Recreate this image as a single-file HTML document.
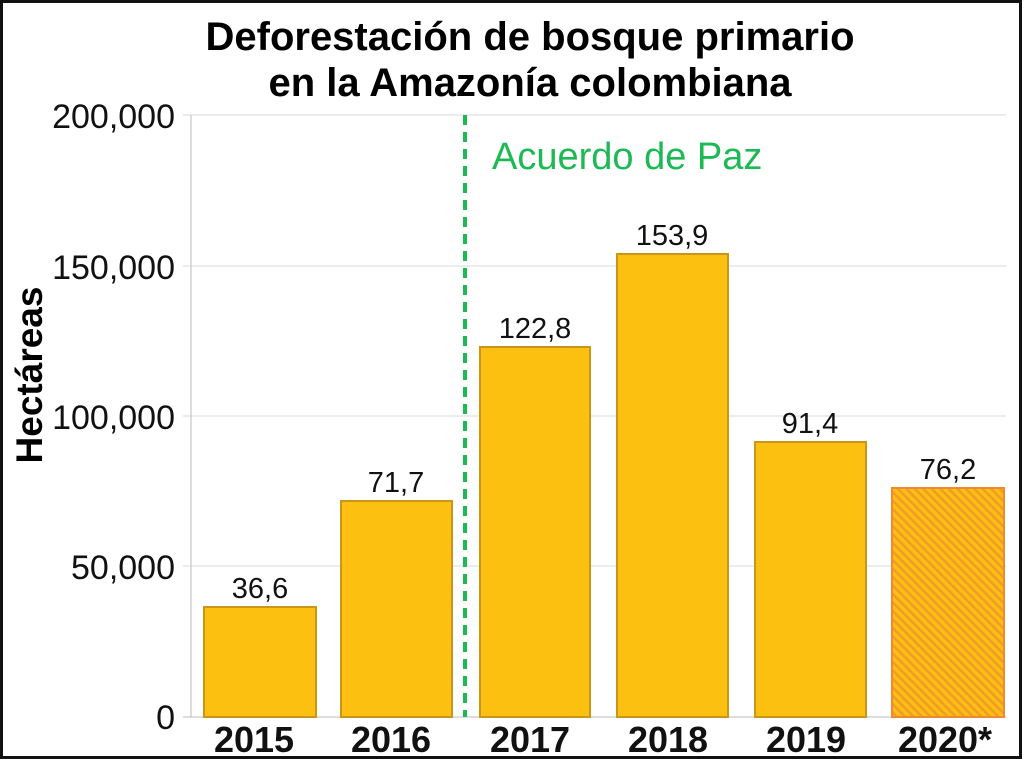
<!DOCTYPE html>
<html><head><style>
body{margin:0;background:#fff;}
svg{display:block;font-family:"Liberation Sans",sans-serif;}
</style></head><body>
<svg width="1024" height="761" viewBox="0 0 1024 761">
<defs>
<pattern id="h" patternUnits="userSpaceOnUse" width="6" height="6" patternTransform="rotate(-45)">
<rect width="6" height="6" fill="#fcc010"/><rect width="2.5" height="6" fill="#f39a2a"/>
</pattern>
</defs>
<rect x="1.5" y="1.5" width="1019" height="756" fill="#fff" stroke="#111" stroke-width="3"/>
<text x="530" y="50" text-anchor="middle" font-size="40" font-weight="bold">Deforestación de bosque primario</text>
<text x="530" y="96" text-anchor="middle" font-size="40" font-weight="bold">en la Amazonía colombiana</text>
<g stroke="#d9d9d9" stroke-width="1">
<line x1="183" x2="1006" y1="115" y2="115"/><line x1="183" x2="1006" y1="266" y2="266"/>
<line x1="183" x2="1006" y1="416" y2="416"/><line x1="183" x2="1006" y1="566" y2="566"/>
</g>
<line x1="191" x2="191" y1="115" y2="717" stroke="#bbb"/>
<line x1="183" x2="1006" y1="717" y2="717" stroke="#bbb"/>
<g font-size="34" text-anchor="end" fill="#111">
<text x="175" y="128">200,000</text><text x="175" y="279">150,000</text>
<text x="175" y="429">100,000</text><text x="175" y="579">50,000</text><text x="175" y="729">0</text>
</g>
<text transform="translate(42,375) rotate(-90)" text-anchor="middle" font-size="37" font-weight="bold">Hectáreas</text>
<g fill="#fcc010" stroke="#c9961a" stroke-width="2">
<rect x="204" y="607" width="112" height="110"/>
<rect x="341" y="501" width="111" height="216"/>
<rect x="480" y="347" width="110" height="370"/>
<rect x="617" y="254" width="111" height="463"/>
<rect x="755" y="442" width="111" height="275"/>
</g>
<rect x="892" y="488" width="112" height="229" fill="url(#h)" stroke="#f08a30" stroke-width="2"/>
<g font-size="29" text-anchor="middle" fill="#111">
<text x="260" y="598">36,6</text><text x="396" y="492">71,7</text><text x="535" y="338">122,8</text>
<text x="672" y="245">153,9</text><text x="810" y="433">91,4</text><text x="948" y="479">76,2</text>
</g>
<g font-size="36" font-weight="bold" text-anchor="middle" fill="#111">
<text x="254" y="752">2015</text><text x="391" y="752">2016</text><text x="530" y="752">2017</text>
<text x="668" y="752">2018</text><text x="806" y="752">2019</text><text x="945" y="752">2020*</text>
</g>
<line x1="465" x2="465" y1="115" y2="717" stroke="#1db954" stroke-width="4" stroke-dasharray="10,7"/>
<text x="492" y="169" font-size="38" fill="#1db954">Acuerdo de Paz</text>
</svg>
</body></html>
